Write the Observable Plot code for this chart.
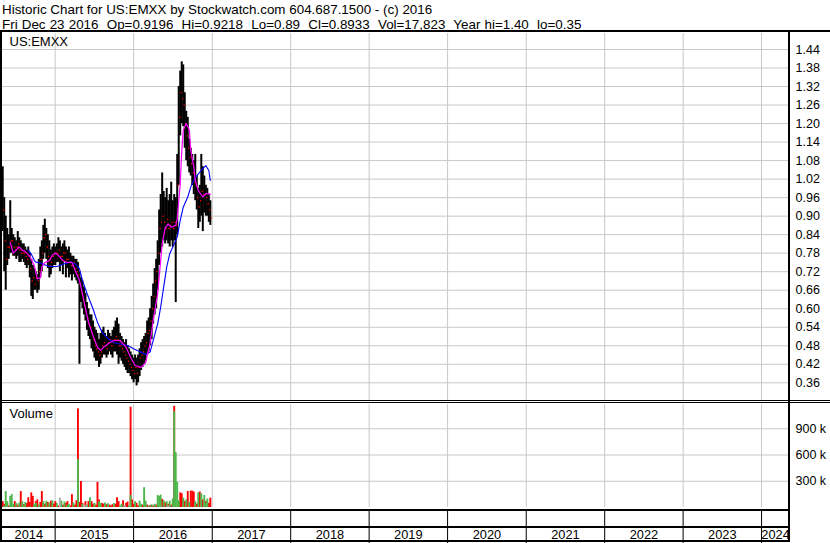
<!DOCTYPE html>
<html>
<head>
<meta charset="utf-8">
<script src="https://cdn.jsdelivr.net/npm/d3@7"></script>
<script src="https://cdn.jsdelivr.net/npm/@observablehq/plot@0.6"></script>
<style>
  body { margin: 0; background: #fff; }
  #chart { position: relative; width: 830px; height: 543px; overflow: hidden;
           font-family: "Liberation Sans", Arial, sans-serif; color: #000; background: #fff; }
  #chart svg { position: absolute; left: 0; }
  .hdr { position: absolute; left: 2px; font-size: 13.4px; line-height: 15px; white-space: pre; }
  .bar { position: absolute; background: #000; z-index: 5; }
</style>
</head>
<body>
<div id="chart"></div>
<script>
// ---- weekly bars, first week ending Friday 2014-05-02 ----
const firstWeek = "2014-05-02";

const weekHigh = [
  1.06,0.96,0.90,0.86,0.84,0.95,0.86,0.84,0.83,0.82,
  0.85,0.83,0.82,0.81,0.81,0.80,0.79,0.80,0.78,0.76,
  0.74,0.73,0.72,0.71,0.76,0.80,0.82,0.87,0.89,0.86,
  0.84,0.82,0.79,0.80,0.81,0.80,0.81,0.83,0.82,0.80,
  0.81,0.82,0.80,0.79,0.80,0.78,0.77,0.77,0.76,0.76,
  0.75,0.72,0.70,0.69,0.67,0.65,0.62,0.60,0.58,0.58,
  0.56,0.54,0.53,0.52,0.50,0.52,0.53,0.54,0.52,0.51,
  0.53,0.52,0.51,0.53,0.54,0.56,0.57,0.55,0.52,0.51,
  0.50,0.49,0.50,0.48,0.47,0.46,0.45,0.44,0.45,0.44,
  0.45,0.47,0.49,0.50,0.51,0.52,0.56,0.57,0.60,0.64,
  0.68,0.73,0.76,0.82,0.92,0.97,1.04,0.98,0.96,0.99,
  0.95,0.97,1.01,0.95,0.97,0.96,1.10,1.32,1.37,1.40,
  1.39,1.30,1.24,1.22,1.15,1.12,1.10,1.08,1.10,1.03,
  0.99,1.00,1.10,1.06,1.03,1.00,0.99,0.97,0.95
];
const weekLow = [
  0.85,0.72,0.66,0.74,0.76,0.78,0.78,0.77,0.77,0.76,
  0.77,0.75,0.75,0.76,0.75,0.74,0.73,0.74,0.70,0.64,
  0.63,0.66,0.66,0.65,0.66,0.70,0.72,0.76,0.78,0.76,
  0.73,0.70,0.71,0.73,0.74,0.74,0.75,0.75,0.72,0.74,
  0.71,0.75,0.70,0.73,0.70,0.71,0.69,0.71,0.70,0.69,
  0.68,0.42,0.62,0.60,0.58,0.56,0.53,0.51,0.50,0.47,
  0.46,0.44,0.43,0.43,0.41,0.42,0.44,0.45,0.45,0.44,
  0.45,0.46,0.45,0.44,0.46,0.46,0.45,0.42,0.44,0.43,
  0.42,0.41,0.40,0.39,0.39,0.38,0.37,0.36,0.37,0.35,
  0.36,0.38,0.40,0.41,0.42,0.43,0.45,0.46,0.48,0.50,
  0.55,0.58,0.60,0.66,0.74,0.78,0.80,0.82,0.81,0.82,
  0.81,0.80,0.82,0.80,0.82,0.62,0.84,1.00,1.16,1.20,
  1.19,1.12,1.08,1.06,1.04,1.03,1.00,0.97,0.95,0.92,
  0.86,0.88,0.90,0.85,0.91,0.90,0.90,0.88,0.87
];
const weekClose = [
  0.92,0.82,0.76,0.80,0.80,0.82,0.82,0.80,0.79,0.80,
  0.81,0.79,0.78,0.78,0.78,0.77,0.76,0.77,0.73,0.69,
  0.70,0.68,0.70,0.69,0.72,0.76,0.78,0.83,0.84,0.80,
  0.77,0.74,0.75,0.77,0.78,0.78,0.78,0.79,0.77,0.77,
  0.78,0.78,0.76,0.76,0.75,0.74,0.74,0.75,0.73,0.72,
  0.71,0.68,0.65,0.63,0.61,0.59,0.57,0.55,0.54,0.52,
  0.50,0.48,0.47,0.46,0.45,0.46,0.48,0.49,0.48,0.47,
  0.49,0.50,0.48,0.49,0.50,0.51,0.50,0.48,0.48,0.47,
  0.46,0.45,0.44,0.43,0.42,0.41,0.40,0.39,0.41,0.39,
  0.41,0.44,0.45,0.46,0.48,0.49,0.52,0.53,0.56,0.60,
  0.64,0.69,0.72,0.78,0.86,0.88,0.90,0.88,0.86,0.89,
  0.86,0.87,0.88,0.86,0.88,0.87,1.00,1.22,1.30,1.28,
  1.26,1.20,1.16,1.12,1.09,1.07,1.04,1.01,1.00,0.96,
  0.93,0.95,0.98,0.97,0.97,0.96,0.94,0.92,0.8933
];

// weekly volume in thousands of shares: down weeks (red) and up weeks (green)
const volDown = [
  90,60,0,70,40,0,0,30,90,0,
  50,0,205,0,55,0,70,135,80,190,
  150,0,90,110,0,80,205,0,60,70,
  80,0,95,70,60,90,0,40,0,0,
  50,0,70,90,0,40,170,0,50,100,
  1150,80,320,70,0,90,0,90,0,90,
  60,0,50,310,110,0,70,60,0,55,
  0,50,40,55,0,60,135,90,0,0,
  100,0,70,85,0,1170,110,60,0,70,
  40,0,0,50,0,0,50,0,45,0,
  40,0,50,0,0,0,115,70,75,0,
  60,0,50,0,1180,0,0,80,190,180,
  110,90,0,205,0,210,210,200,0,60,
  70,200,0,110,0,90,0,70,130
];
const volUp = [
  0,40,205,90,0,150,170,60,0,70,
  0,75,0,90,40,80,0,0,30,0,
  0,60,70,0,50,0,0,90,0,95,
  0,70,0,100,0,0,70,0,0,95,
  0,85,0,50,60,0,0,75,0,0,
  570,0,0,60,0,0,50,0,135,0,
  0,70,0,0,90,70,0,0,75,0,
  65,0,0,0,70,0,0,0,40,60,
  0,45,0,0,40,160,0,0,90,0,
  0,95,60,0,250,95,0,40,0,55,
  0,60,0,160,150,165,0,100,0,90,
  0,95,0,120,1120,650,310,100,0,0,
  130,0,110,0,80,0,0,0,90,0,
  190,0,180,0,160,70,120,0,0
];
// unchanged weeks (grey): [week number, volume in thousands]
const volFlat = [[38,130],[55,45],[81,45],[110,40]];

// moving averages: [week number, price]
const maShort = [
  [5,0.815],[7,0.78],[11,0.80],[13,0.79],[15,0.785],[18,0.77],[21,0.74],[23,0.697],
  [25,0.70],[26,0.735],[28,0.75],[31,0.756],[33,0.773],[35,0.78],[37,0.773],[40,0.756],
  [43,0.75],[46,0.75],[48,0.726],[51,0.692],[53,0.649],[55,0.60],[57,0.557],[60,0.513],
  [63,0.475],[65,0.465],[67,0.475],[71,0.49],[74,0.497],[78,0.497],[82,0.475],[85,0.443],
  [88,0.416],[92,0.41],[95,0.425],[98,0.49],[100,0.562],[103,0.648],[105,0.756],[106,0.81],
  [108,0.862],[110,0.875],[112,0.864],[115,0.87],[116,0.89],[118,1.005],[119,1.11],[120,1.178],
  [122,1.2],[124,1.18],[125,1.113],[127,1.06],[128,1.016],[130,0.983],[133,0.962],[135,0.973],
  [137,0.973],[138,0.97]
];
const maLong = [
  [17,0.79],[19,0.777],[21,0.756],[22,0.751],[25,0.748],[29,0.74],[32,0.737],[36,0.737],
  [41,0.746],[45,0.751],[48,0.746],[51,0.73],[53,0.692],[56,0.65],[60,0.60],[63,0.556],
  [66,0.524],[70,0.503],[74,0.49],[78,0.486],[83,0.481],[87,0.47],[92,0.459],[95,0.452],
  [98,0.46],[100,0.497],[103,0.551],[105,0.605],[107,0.67],[109,0.735],[111,0.778],[114,0.81],
  [116,0.832],[118,0.886],[120,0.929],[123,0.962],[125,0.994],[127,1.016],[130,1.037],
  [134,1.059],[135,1.064],[137,1.048],[138,1.016]
];

const priceTicks = [1.44,1.38,1.32,1.26,1.20,1.14,1.08,1.02,0.96,0.90,0.84,0.78,0.72,0.66,0.60,0.54,0.48,0.42,0.36];
const volumeTicks = [300, 600, 900];
const yearLabels = ["2014","2015","2016","2017","2018","2019","2020","2021","2022","2023","2024"];

const titleLine = "Historic Chart for US:EMXX by Stockwatch.com 604.687.1500 - (c) 2016";
const quoteLine = "Fri Dec 23 2016  Op=0.9196  Hi=0.9218  Lo=0.89  Cl=0.8933  Vol=17,823  Year hi=1.40  lo=0.35";
const symbolLabel = "US:EMXX";

// ---- assemble ----
const start = new Date(firstWeek + "T00:00:00Z");
const weekDate = i => d3.utcDay.offset(start, 7 * i);
const weeks = weekHigh.map((h, i) => ({
  date: weekDate(i), high: h, low: weekLow[i], close: weekClose[i],
  down: volDown[i], up: volUp[i]
}));
const flatWeeks = volFlat.map(([i, v]) => ({date: weekDate(i), vol: v}));
const shortLine = maShort.map(([i, v]) => ({date: weekDate(i), value: v}));
const longLine = maLong.map(([i, v]) => ({date: weekDate(i), value: v}));

const xDomain = [new Date("2014-05-01T00:00:00Z"), new Date("2024-05-10T00:00:00Z")];
const yearStarts = yearLabels.slice(1).map(y => new Date(`${y}-01-01T00:00:00Z`));
const yearMids = yearLabels.map(y => {
  const a = Math.max(+new Date(`${y}-01-01T00:00:00Z`), +xDomain[0]);
  const b = Math.min(+new Date(`${+y + 1}-01-01T00:00:00Z`), +xDomain[1]);
  return {label: y, date: new Date((a + b) / 2)};
});

const font = "'Liberation Sans', Arial, sans-serif";
const grid = "#c8c8c8";
const common = {
  width: 830, marginLeft: 2, marginRight: 41,
  x: {type: "utc", domain: xDomain, axis: null},
  style: {fontFamily: font, fontSize: "12.5px", background: "transparent", color: "#000", overflow: "visible"}
};

const chart = document.getElementById("chart");

// header, two lines
[[titleLine, 1.5, 0], [quoteLine, 16.5, 0.4]].forEach(([t, top, ws]) => {
  const d = document.createElement("div");
  d.className = "hdr";
  d.style.top = top + "px";
  d.style.wordSpacing = ws + "px";
  d.textContent = t;
  chart.appendChild(d);
});

// price panel (y 33..400)
const price = Plot.plot({
  ...common,
  height: 367, marginTop: 0, marginBottom: 0,
  y: {domain: [0.36, 1.44], range: [349.3, 16], axis: null},
  marks: [
    Plot.gridY(priceTicks, {stroke: grid, strokeOpacity: 1}),
    Plot.gridX(yearStarts, {stroke: grid, strokeOpacity: 1}),
    Plot.axisY(priceTicks, {anchor: "right", tickSize: 0, tickPadding: 6, tickFormat: d3.format(".2f"), label: null}),
    Plot.text([symbolLabel], {frameAnchor: "top-left", textAnchor: "start", lineAnchor: "top", dx: 7, dy: 3.5, fontSize: 13, text: d => d}),
    Plot.ruleX(weeks, {x: "date", y1: "low", y2: "high", stroke: "#000", strokeWidth: 2, clip: true}),
    Plot.dot(weeks, {x: "date", y: "close", symbol: "square", r: 0.72, fill: "#ff0000", stroke: "none", dx: 0.9, clip: true}),
    Plot.line(longLine, {x: "date", y: "value", stroke: "#0000ff", strokeWidth: 1.1, clip: true}),
    Plot.line(shortLine, {x: "date", y: "value", stroke: "#ff00ff", strokeWidth: 1.2, clip: true})
  ]
});
price.style.top = "33px";
chart.appendChild(price);

// volume panel (y 404..510)
const volume = Plot.plot({
  ...common,
  height: 106, marginTop: 0, marginBottom: 3,
  y: {domain: [0, 900], range: [103, 24.3], axis: null},
  marks: [
    Plot.gridY(volumeTicks, {stroke: grid, strokeOpacity: 1}),
    Plot.gridX(yearStarts, {stroke: grid, strokeOpacity: 1}),
    Plot.axisY(volumeTicks, {anchor: "right", tickSize: 0, tickPadding: 6, tickFormat: d => `${d} k`, label: null}),
    Plot.text(["Volume"], {frameAnchor: "top-left", textAnchor: "start", lineAnchor: "top", dx: 7, dy: 4, fontSize: 13, text: d => d}),
    Plot.ruleX(weeks.filter(d => d.down > 0), {x: "date", y1: 0, y2: "down", stroke: "#ff0000", strokeWidth: 1.9, insetBottom: -2}),
    Plot.ruleX(weeks.filter(d => d.up > 0), {x: "date", y1: 0, y2: "up", stroke: "#4cb84c", strokeWidth: 1.9, insetBottom: -2}),
    Plot.ruleX(flatWeeks, {x: "date", y1: 0, y2: "vol", stroke: "#a8a8a8", strokeWidth: 1.9, insetBottom: -2})
  ]
});
volume.style.top = "404px";
chart.appendChild(volume);

// year rows (y 510..543)
const years = Plot.plot({
  ...common,
  height: 33, marginTop: 0, marginBottom: 0,
  y: {axis: null},
  marks: [
    Plot.ruleX(yearStarts, {stroke: "#000", strokeWidth: 1}),
    Plot.text(yearMids, {x: "date", text: "label", frameAnchor: "bottom", lineAnchor: "middle", dy: -8.5, fontSize: 12.8, fill: "#000"})
  ]
});
years.style.top = "510px";
chart.appendChild(years);

// panel frame lines
[
  [0, 30, 830, 2],      // under the header
  [0, 30, 2, 512],      // left edge
  [788, 30, 2, 512],    // right edge of plotting area
  [0, 400, 830, 1],     // double rule between panels
  [0, 402, 830, 1],
  [0, 509, 790, 2],     // under volume
  [0, 526, 790, 2],     // between the two bottom rows
  [0, 540, 790, 2]      // bottom
].forEach(([l, t, w, h]) => {
  const d = document.createElement("div");
  d.className = "bar";
  Object.assign(d.style, {left: l + "px", top: t + "px", width: w + "px", height: h + "px"});
  chart.appendChild(d);
});
</script>
</body>
</html>
